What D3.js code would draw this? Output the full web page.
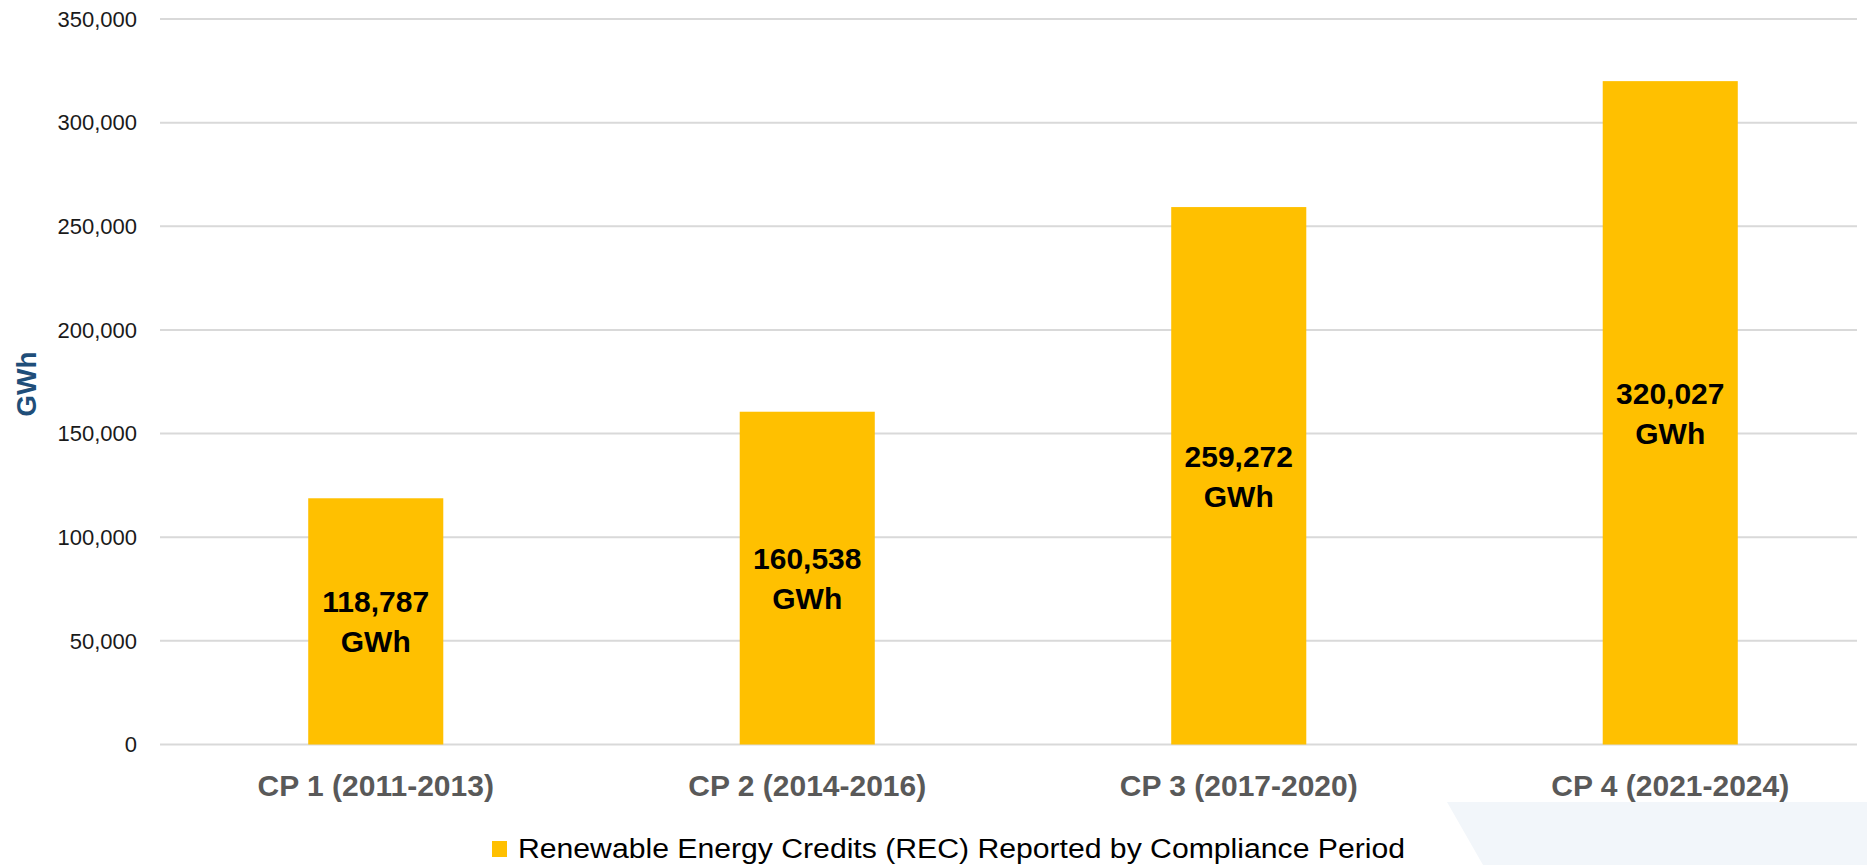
<!DOCTYPE html>
<html>
<head>
<meta charset="utf-8">
<script src="https://cdn.jsdelivr.net/npm/d3@7"></script>
<style>
  body { margin: 0; background: #fff; }
  svg { display: block; font-family: "Liberation Sans", Arial, sans-serif; }
</style>
</head>
<body>
<div id="chart"></div>
<script>
// data
const periods = ["CP 1 (2011-2013)", "CP 2 (2014-2016)", "CP 3 (2017-2020)", "CP 4 (2021-2024)"];
const recValues = [118787, 160538, 259272, 320027];
const yTicks = [0, 50000, 100000, 150000, 200000, 250000, 300000, 350000];
const seriesName = "Renewable Energy Credits (REC) Reported by Compliance Period";

const width = 1867, height = 865;
const barColor = "#FFC000";

const svg = d3.select("#chart")
  .append("svg")
    .attr("width", width)
    .attr("height", height);

// light blue decoration in the bottom right corner
svg.append("path")
  .attr("d", "M1447,802 L1867,802 L1867,865 L1483,865 Z")
  .attr("fill", "#f2f6fa");

// scales
const x = d3.scaleBand()
  .domain(periods)
  .range([160, 1886])
  .paddingInner(0.687)
  .paddingOuter(0.3435);

const y = d3.scaleLinear()
  .domain([0, 350000])
  .range([744.5, 19]);

// gridlines
svg.append("g")
  .selectAll("line")
  .data(yTicks)
  .enter()
  .append("line")
    .attr("x1", 160)
    .attr("x2", 1857)
    .attr("y1", d => y(d))
    .attr("y2", d => y(d))
    .attr("stroke", "#d9d9d9")
    .attr("stroke-width", 2);

// y tick labels
svg.append("g")
  .selectAll("text")
  .data(yTicks)
  .enter()
  .append("text")
    .attr("x", 137)
    .attr("y", d => y(d))
    .attr("dy", "0.35em")
    .attr("text-anchor", "end")
    .style("font-size", "22px")
    .attr("fill", "#1a1a1a")
    .text(d => d3.format(",")(d));

// y axis title
svg.append("text")
  .attr("transform", "translate(36,384) rotate(-90)")
  .attr("text-anchor", "middle")
  .style("font-size", "28px")
  .style("font-weight", "bold")
  .attr("fill", "#1f4e79")
  .text("GWh");

// bars
svg.append("g")
  .selectAll("rect")
  .data(recValues)
  .enter()
  .append("rect")
    .attr("x", (d, i) => x(periods[i]))
    .attr("y", d => y(d))
    .attr("width", x.bandwidth())
    .attr("height", d => y(0) - y(d))
    .attr("fill", barColor);

// value labels inside the bars
const labels = svg.append("g")
  .selectAll("text")
  .data(recValues)
  .enter()
  .append("text")
    .attr("text-anchor", "middle")
    .style("font-size", "30px")
    .style("font-weight", "bold")
    .attr("fill", "#000");

labels.append("tspan")
  .attr("x", (d, i) => x(periods[i]) + x.bandwidth() / 2)
  .attr("y", d => (y(d) + y(0)) / 2 - 9)
  .text(d => d3.format(",")(d));
labels.append("tspan")
  .attr("x", (d, i) => x(periods[i]) + x.bandwidth() / 2)
  .attr("y", d => (y(d) + y(0)) / 2 + 31)
  .text("GWh");

// category labels
svg.append("g")
  .selectAll("text")
  .data(periods)
  .enter()
  .append("text")
    .attr("x", d => x(d) + x.bandwidth() / 2)
    .attr("y", 796)
    .attr("text-anchor", "middle")
    .style("font-size", "30px")
    .style("font-weight", "bold")
    .attr("fill", "#595959")
    .text(d => d);

// legend
const legend = svg.append("g");
legend.append("rect")
  .attr("x", 492)
  .attr("y", 841)
  .attr("width", 15)
  .attr("height", 16)
  .attr("fill", barColor);
legend.append("text")
  .attr("x", 518)
  .attr("y", 858)
  .attr("textLength", 887)
  .attr("lengthAdjust", "spacingAndGlyphs")
  .style("font-size", "27px")
  .attr("fill", "#000")
  .text(seriesName);
</script>
</body>
</html>
